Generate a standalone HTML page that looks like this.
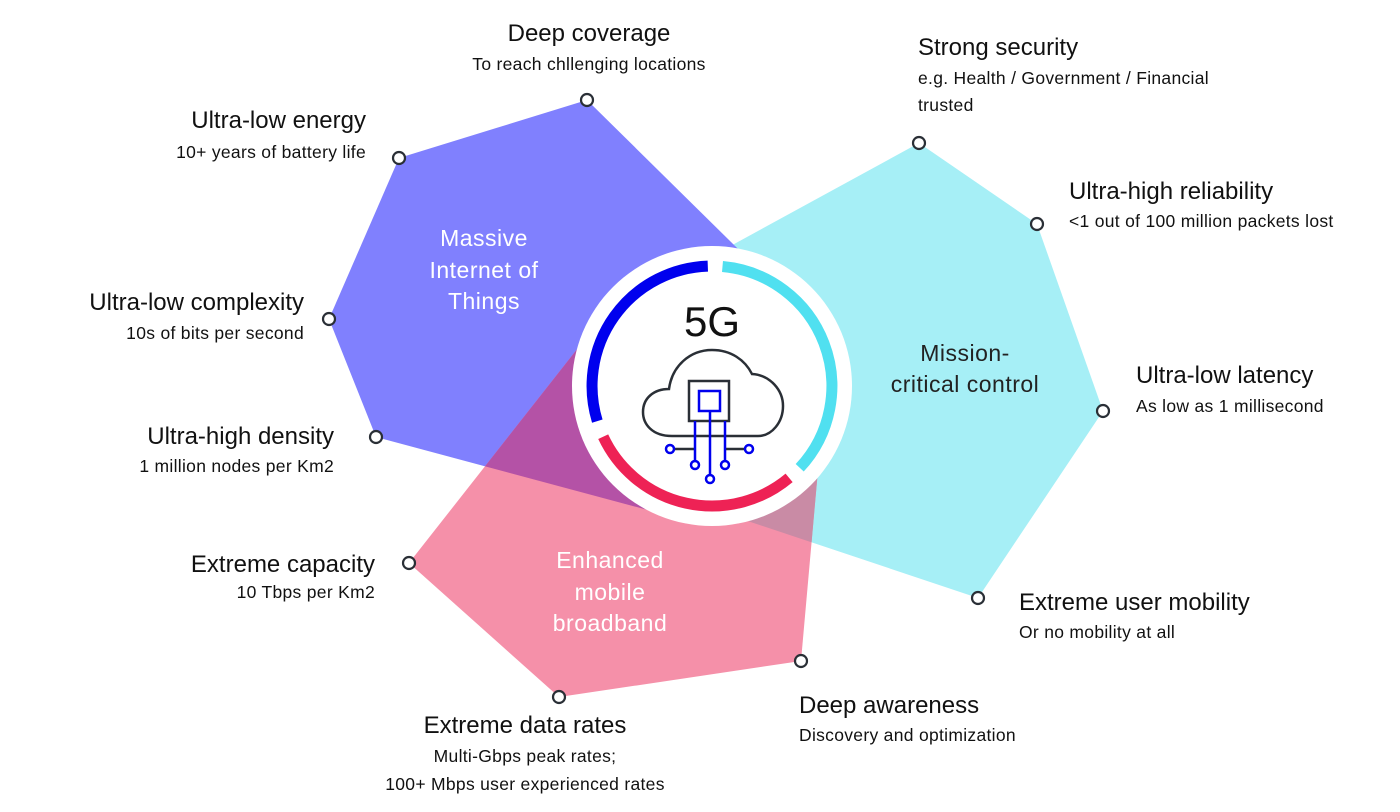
<!DOCTYPE html>
<html><head><meta charset="utf-8"><style>
html,body{margin:0;padding:0;background:#fff;}
svg{display:block;}
text{font-family:"Liberation Sans",sans-serif;}
.t{font-size:24px;fill:#111;}
.s{font-size:17.5px;fill:#111;letter-spacing:0.3px;}
.w{font-size:23px;fill:#fff;letter-spacing:0.5px;}
</style></head><body>
<svg width="1400" height="812" viewBox="0 0 1400 812" xmlns="http://www.w3.org/2000/svg">
<defs>
<clipPath id="cp"><polygon points="587,100 399,158 329,319 376,437 700,524 800,310"/></clipPath>
<clipPath id="cc"><polygon points="919,143 1037,224 1103,411 978,598 700,505 650,290"/></clipPath>
</defs>
<polygon points="919,143 1037,224 1103,411 978,598 700,505 650,290" fill="#A6EFF6"/>
<polygon points="587,100 399,158 329,319 376,437 700,524 800,310" fill="#8080FE"/>
<polygon points="409,563 559,697 801,661 818,470 600,320" fill="#F590A9"/>
<polygon points="409,563 559,697 801,661 818,470 600,320" fill="#C98BA5" clip-path="url(#cc)"/>
<polygon points="409,563 559,697 801,661 818,470 600,320" fill="#B452A6" clip-path="url(#cp)"/>
<circle cx="712" cy="386" r="140" fill="#fff"/>
<path d="M597.3,421.1 A120,120 0 0 1 707.8,266.1" fill="none" stroke="#0000EE" stroke-width="11"/>
<path d="M722.5,266.5 A120,120 0 0 1 799.7,467.8" fill="none" stroke="#50E0F0" stroke-width="11"/>
<path d="M789.1,477.9 A120,120 0 0 1 603.2,436.7" fill="none" stroke="#EE2255" stroke-width="11"/>
<text x="712" y="336" text-anchor="middle" font-size="42" fill="#111">5G</text>
<path d="M672,436 C652,436 643,424 643,412 C643,398 654,389 669,389 C672,366 690,350 712,350 C731,350 745,360 752,374 C770,375 783,390 783,406 C783,422 772,436 758,436 Z" fill="none" stroke="#2a2f36" stroke-width="2.5"/>
<rect x="689" y="381" width="40" height="40" fill="#fff" stroke="#2a2f36" stroke-width="2.5"/>
<rect x="699" y="391" width="21" height="20" fill="none" stroke="#0000EE" stroke-width="2.5"/>
<g stroke="#2a2f36" stroke-width="2.5"><line x1="674" y1="449" x2="695" y2="449"/><line x1="725" y1="449" x2="745" y2="449"/></g>
<g stroke="#0000EE" stroke-width="2.5" fill="#fff">
<line x1="695" y1="421" x2="695" y2="461"/><line x1="710" y1="411" x2="710" y2="475"/><line x1="725" y1="421" x2="725" y2="461"/>
<circle cx="670" cy="449" r="4"/><circle cx="749" cy="449" r="4"/><circle cx="695" cy="465" r="4"/><circle cx="725" cy="465" r="4"/><circle cx="710" cy="479" r="4"/>
</g>
<g fill="#fff" stroke="#2a2f36" stroke-width="2.2">
<circle cx="587" cy="100" r="6"/><circle cx="399" cy="158" r="6"/><circle cx="329" cy="319" r="6"/><circle cx="376" cy="437" r="6"/><circle cx="409" cy="563" r="6"/><circle cx="559" cy="697" r="6"/><circle cx="801" cy="661" r="6"/><circle cx="978" cy="598" r="6"/><circle cx="1103" cy="411" r="6"/><circle cx="1037" cy="224" r="6"/><circle cx="919" cy="143" r="6"/>
</g>
<g text-anchor="middle">
<text class="w" x="484" y="246">Massive</text><text class="w" x="484" y="278">Internet of</text><text class="w" x="484" y="309">Things</text>
<text class="w" x="610" y="568">Enhanced</text><text class="w" x="610" y="600">mobile</text><text class="w" x="610" y="631">broadband</text>
<text x="965" y="361" font-size="23" fill="#222" letter-spacing="0.5">Mission-</text><text x="965" y="392" font-size="23" fill="#222" letter-spacing="0.5">critical control</text>
<text class="t" x="589" y="41">Deep coverage</text><text class="s" x="589" y="70">To reach chllenging locations</text>
<text class="t" x="525" y="733">Extreme data rates</text><text class="s" x="525" y="762">Multi-Gbps peak rates;</text><text class="s" x="525" y="790">100+ Mbps user experienced rates</text>
</g>
<g text-anchor="end">
<text class="t" x="366" y="128">Ultra-low energy</text><text class="s" x="366" y="158">10+ years of battery life</text>
<text class="t" x="304" y="310">Ultra-low complexity</text><text class="s" x="304" y="339">10s of bits per second</text>
<text class="t" x="334" y="444">Ultra-high density</text><text class="s" x="334" y="472">1 million nodes per Km2</text>
<text class="t" x="375" y="572">Extreme capacity</text><text class="s" x="375" y="598">10 Tbps per Km2</text>
</g>
<g>
<text class="t" x="799" y="713">Deep awareness</text><text class="s" x="799" y="741">Discovery and optimization</text>
<text class="t" x="1019" y="610">Extreme user mobility</text><text class="s" x="1019" y="638">Or no mobility at all</text>
<text class="t" x="1136" y="383">Ultra-low latency</text><text class="s" x="1136" y="412">As low as 1 millisecond</text>
<text class="t" x="1069" y="199">Ultra-high reliability</text><text class="s" x="1069" y="227">&lt;1 out of 100 million packets lost</text>
<text class="t" x="918" y="55">Strong security</text><text class="s" x="918" y="84">e.g. Health / Government / Financial</text><text class="s" x="918" y="111">trusted</text>
</g>
</svg>
</body></html>
